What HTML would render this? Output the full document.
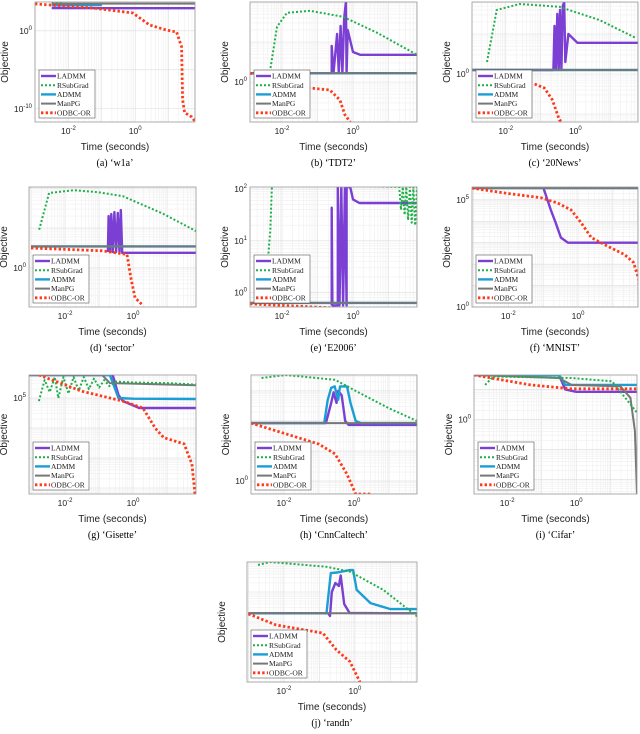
<!DOCTYPE html>
<html><head><meta charset="utf-8"><style>
html,body{margin:0;padding:0;background:#fff}
svg{display:block}
text{font-family:"Liberation Sans",sans-serif}
.cap{font-family:"Liberation Serif",serif;font-size:10px}
.leg{font-family:"Liberation Serif",serif;font-size:7.5px}
</style></head><body>
<svg id="fig" width="640" height="734" viewBox="0 0 640 734" xmlns="http://www.w3.org/2000/svg"></svg>
<script>
// data in log10 units: [log10(time), log10(objective)]
const a_ladmm=[[-2.5,2.93],[-1,2.9],[1.8,2.9]];
const a_rsub=[[-2.5,3.7],[-2.2,3.7]];
const a_admm=[[-2.5,3.3],[-1,3.3]];
const a_manpg=[[-2.5,3.5],[1.8,3.5]];
const a_odbc=[[-3,3.45],[-1.27,2.93],[-0.07,2.29],[0.43,0.75],[0.94,0.1],[1.24,-0.15],[1.39,-2.07],[1.42,-8.86],[1.48,-10.5],[1.69,-11.05],[1.78,-11.56]];
const b_ladmm=[[-2.9,0.22],[-0.6,0.22],[-0.6,0.9],[-0.55,0.22],[-0.45,1.2],[-0.4,0.22],[-0.35,1.4],[-0.3,0.22],[-0.25,1.6],[-0.2,2.0],[-0.18,0.22],[-0.15,1.3],[0,0.75],[0.2,0.68],[1.8,0.68]];
const b_rsub=[[-2.34,0.25],[-2.14,1.38],[-1.86,1.73],[-1.21,1.78],[-0.28,1.63],[0.68,1.23],[1.8,0.68]];
const b_admm=[[-3,0.22],[1.8,0.22]];
const b_manpg=[[-3,0.22],[1.8,0.22]];
const b_odbc=[[-2.9,0.22],[-1.21,-0.15],[-0.65,-0.2],[-0.37,-0.45],[-0.23,-0.82],[-0.08,-1]];
const c_ladmm=[[-3,0.1],[-0.63,0.1],[-0.6,1.2],[-0.56,0.1],[-0.52,1.5],[-0.48,0.1],[-0.44,1.6],[-0.4,0.1],[-0.36,1.7],[-0.32,1.8],[-0.29,0.3],[-0.2,1.0],[0.06,0.78],[1.8,0.78]];
const c_rsub=[[-2.54,0.3],[-2.26,1.6],[-1.6,1.75],[-0.46,1.68],[0.69,1.35],[1.74,0.9]];
const c_admm=[[-3,0.1],[1.8,0.1]];
const c_manpg=[[-3,0.1],[1.8,0.1]];
const c_odbc=[[-1.17,-0.25],[-0.89,-0.35],[-0.66,-0.65],[-0.46,-1.15],[-0.37,-1.2]];
const d_ladmm=[[-0.74,0.4],[-0.72,1.3],[-0.68,0.4],[-0.64,1.35],[-0.6,0.4],[-0.55,1.4],[-0.5,0.4],[-0.45,1.38],[-0.4,0.4],[-0.36,1.45],[-0.32,0.38],[1.9,0.38]];
const d_rsub=[[-2.76,0.96],[-2.47,1.88],[-1.74,1.95],[-1.03,1.9],[-0.3,1.8],[0.88,1.36],[1.9,0.9]];
const d_admm=[[-3,0.54],[1.9,0.54]];
const d_manpg=[[-3,0.54],[1.9,0.54]];
const d_odbc=[[-3,0.5],[-0.91,0.43],[-0.18,0.34],[-0.06,-0.27],[0.06,-0.75],[0.3,-0.95]];
const e_ladmm=[[-0.6,-0.25],[-0.6,1.64],[-0.58,-0.25],[-0.43,-0.25],[-0.43,2.04],[-0.38,-0.25],[-0.33,2.04],[-0.28,-0.25],[-0.23,2.04],[-0.18,-0.25],[-0.18,2.04],[-0.08,2.04],[0,1.8],[0.18,1.73],[1.8,1.73]];
const e_rsub=[[-2.4,0.6],[-2.33,1.2],[-2.28,2.1],[1.3,2.04],[1.35,1.6],[1.4,2.04],[1.45,1.5],[1.5,2.04],[1.55,1.4],[1.6,2.04],[1.65,1.35],[1.7,2.04],[1.75,1.3],[1.8,2.04]];
const e_admm=[[-3,-0.2],[1.8,-0.2]];
const e_manpg=[[-3,-0.2],[1.8,-0.2]];
const e_odbc=[[-2.9,-0.22],[-0.5,-0.3]];
const f_ladmm=[[-0.99,5.55],[-0.78,4.53],[-0.64,3.93],[-0.49,3.24],[-0.29,3.0],[-0.1,3.0],[1.8,3.0]];
const f_rsub=[];
const f_admm=[[-3,5.55],[1.8,5.55]];
const f_manpg=[[-3,5.55],[1.8,5.55]];
const f_odbc=[[-3.04,5.55],[-2.03,5.3],[-1.07,5.1],[-0.58,4.85],[-0.2,4.53],[0.09,3.93],[0.38,3.24],[0.87,2.82],[1.33,2.45],[1.59,2.08],[1.74,1.3],[1.77,0.05]];
const g_ladmm=[[-3.06,5.77],[-0.6,5.77],[-0.43,5.1],[-0.3,4.9],[0.18,4.67],[1.85,4.67]];
const g_rsub=[[-2.77,4.9],[-2.6,5.6],[-2.45,5.2],[-2.3,5.7],[-2.2,5.0],[-2.05,5.7],[-1.9,5.15],[-1.75,5.7],[-1.6,5.25],[-1.45,5.7],[-1.3,5.3],[-1.15,5.65],[-1.0,5.35],[-0.85,5.6],[-0.7,5.4],[-0.5,5.55],[0,5.52],[1,5.5],[1.85,5.45]];
const g_admm=[[-3.06,5.77],[-0.68,5.77],[-0.43,5.0],[0,4.98],[1.85,4.97]];
const g_manpg=[[-3.06,5.77],[-0.91,5.77],[-0.68,5.5],[1.85,5.43]];
const g_odbc=[[-2.77,5.77],[-1.51,5.23],[-0.3,4.9],[0.29,4.67],[0.65,4.0],[0.9,3.68],[1.5,3.47],[1.73,2.8],[1.82,1.8]];
const h_ladmm=[[-3,1.93],[-0.8,1.93],[-0.65,2.6],[-0.58,2.95],[-0.5,2.6],[-0.45,3.0],[-0.35,2.85],[-0.25,2.0],[-0.15,1.87],[1.8,1.87]];
const h_rsub=[[-2.64,3.43],[-1.94,3.53],[-0.54,3.37],[0.05,3.0],[0.99,2.43],[1.8,2.0]];
const h_admm=[[-3,1.93],[-0.85,1.93],[-0.75,2.7],[-0.65,3.1],[-0.55,3.15],[-0.45,2.7],[-0.4,3.15],[-0.2,3.15],[-0.1,2.6],[0.05,2.0],[0.2,1.93],[1.8,1.93]];
const h_manpg=[[-3,1.93],[1.8,1.93]];
const h_odbc=[[-2.94,1.93],[-1.94,1.57],[-1.0,1.23],[-0.54,0.9],[-0.2,0.23],[0.05,-0.43],[0.5,-0.43]];
const i_ladmm=[[-3,1.48],[-0.5,1.48],[-0.32,1.0],[0,0.92],[1.8,0.92]];
const i_rsub=[[-2.64,1.15],[-2.4,1.43],[-0.14,1.38],[1.04,1.27],[1.8,0.17]];
const i_admm=[[-3,1.48],[-0.5,1.48],[-0.32,1.15],[1.8,1.15]];
const i_manpg=[[-2.96,1.48],[-0.5,1.38],[-0.14,1.15],[1.28,1.1],[1.57,0.72],[1.7,-0.38],[1.76,-2.48]];
const i_odbc=[[-2.96,1.48],[-1.33,1.15],[-0.14,1.02],[1.8,1.02]];
const j_ladmm=[[-3,2.29],[-0.75,2.29],[-0.7,2.2],[-0.65,3.0],[-0.55,3.3],[-0.45,3.2],[-0.4,3.55],[-0.3,2.6],[-0.15,2.3],[1.76,2.29]];
const j_rsub=[[-2.73,3.9],[-2.39,4.0],[-0.8,3.84],[-0.14,3.68],[0.8,3.07],[1.76,2.18]];
const j_admm=[[-3,2.29],[-0.8,2.29],[-0.68,3.63],[-0.5,3.65],[-0.14,3.73],[-0.05,3.73],[0.05,3.07],[0.44,2.63],[1.0,2.43],[1.76,2.43]];
const j_manpg=[[-3,2.29],[1.8,2.29]];
const j_odbc=[[-3,2.27],[-2.22,1.9],[-0.9,1.63],[-0.52,1.07],[-0.14,0.68],[0.14,0]];
const xTickExps=[-2,0];
const legendLabels=["LADMM","RSubGrad","ADMM","ManPG","ODBC-OR"];
const captions=["(a) ‘w1a’","(b) ‘TDT2’","(c) ‘20News’","(d) ‘sector’","(e) ‘E2006’","(f) ‘MNIST’","(g) ‘Gisette’","(h) ‘CnnCaltech’","(i) ‘Cifar’","(j) ‘randn’"];
const yTickExps=[[0,-10],[0],[0],[0],[2,1,0],[5,0],[5],[0],[0],[]];
const yDomains=[[-11.7,3.7],[-1,2],[-1.2,1.8],[-0.98,2.03],[-0.28,2.04],[0,5.6],[1.8,5.77],[-0.43,3.53],[-2.48,1.48],[0,4]];
const xDomains=[[-3,1.79],[-2.9,1.8],[-2.97,1.8],[-3.06,1.85],[-2.9,1.8],[-3.04,1.72],[-3.06,1.85],[-2.94,1.8],[-2.96,1.76],[-3.04,1.75]];
const seriesData=[
 [a_ladmm,a_rsub,a_admm,a_manpg,a_odbc],[b_ladmm,b_rsub,b_admm,b_manpg,b_odbc],[c_ladmm,c_rsub,c_admm,c_manpg,c_odbc],
 [d_ladmm,d_rsub,d_admm,d_manpg,d_odbc],[e_ladmm,e_rsub,e_admm,e_manpg,e_odbc],[f_ladmm,f_rsub,f_admm,f_manpg,f_odbc],
 [g_ladmm,g_rsub,g_admm,g_manpg,g_odbc],[h_ladmm,h_rsub,h_admm,h_manpg,h_odbc],[i_ladmm,i_rsub,i_admm,i_manpg,i_odbc],
 [j_ladmm,j_rsub,j_admm,j_manpg,j_odbc]];

// layout (not data)
const boxes=[[35,2,195,122],[250,2,417,122],[472,2,638,122],[29,187,196,307],[250,187,417,307],[472,187,638,307],[29,375,196,494],[251,375,417,494],[474,375,637,494],[247,562,417,682]];
const styles=[
 {c:"#7b3fd4",w:2.4,d:null},{c:"#1fae4a",w:2,d:"2,2"},{c:"#1b9ed6",w:2.4,d:null},{c:"#777777",w:2,d:null},{c:"#ff3a1a",w:2.8,d:"2.4,2.2"}];
const drawOrder=[0,2,3,1,4];
const NS="http://www.w3.org/2000/svg";
const svg=document.getElementById('fig');
function mk(tag,attrs,parent){const e=document.createElementNS(NS,tag);for(const k in attrs)e.setAttribute(k,attrs[k]);(parent||svg).appendChild(e);return e;}
const names="abcdefghij";
boxes.forEach((b,p)=>{
 const [x0,y0,x1,y1]=b,[xa,xb]=xDomains[p],[ya,yb]=yDomains[p];
 const sx=v=>x0+(v-xa)/(xb-xa)*(x1-x0);
 const sy=v=>y1-(v-ya)/(yb-ya)*(y1-y0);
 const g=mk('g',{});
 
 
 const cid='clip'+p;
 const cp=mk('clipPath',{id:cid},g);mk('rect',{x:x0,y:y0,width:x1-x0,height:y1-y0},cp);
 const grid=mk('g',{},g);
 
 
 for(let d=Math.floor(xa);d<=Math.ceil(xb);d++)for(let k=1;k<10;k++){const v=d+Math.log10(k);if(v<xa||v>xb)continue;const X=sx(v);mk('line',{x1:X,y1:y0,x2:X,y2:y1,stroke:k==1?"#dcdcdc":"#efefef","stroke-width":0.6},grid);}
 const ystep=(yb-ya)>8?5:1;
 for(let d=Math.floor(ya);d<=Math.ceil(yb);d++){
  if(ystep==1){for(let k=1;k<10;k++){const v=d+Math.log10(k);if(v<ya||v>yb)continue;const Y=sy(v);mk('line',{x1:x0,y1:Y,x2:x1,y2:Y,stroke:k==1?"#dcdcdc":"#efefef","stroke-width":0.6},grid);}}
  else if(d%ystep==0&&d>=ya&&d<=yb){const Y=sy(d);mk('line',{x1:x0,y1:Y,x2:x1,y2:Y,stroke:"#dcdcdc","stroke-width":0.6},grid);}
 }
 const sg=mk('g',{'clip-path':'url(#'+cid+')'},g);
 drawOrder.forEach(si=>{
  const pts=seriesData[p][si];if(!pts.length)return;
  const st=styles[si];
  const pl=mk('polyline',{points:pts.map(q=>sx(q[0]).toFixed(1)+","+sy(q[1]).toFixed(1)).join(" "),fill:"none",stroke:st.c,"stroke-width":st.w,"stroke-linejoin":"round"},sg);
  if(st.d)pl.setAttribute('stroke-dasharray',st.d);
  
  
 });
 const frame=mk('rect',{x:x0,y:y0,width:x1-x0,height:y1-y0,fill:"none",stroke:"#999","stroke-width":0.8},g);
 
 
 xTickExps.forEach(e=>{
  const X=sx(e);
  const t=mk('text',{x:X,y:y1+12,"font-size":"8.5","text-anchor":"middle",fill:"#222"},g);
  
  
  t.textContent="10";
  const s=mk('tspan',{dy:"-4","font-size":"6"},t);s.textContent=String(e);
 });
 yTickExps[p].forEach(e=>{
  const Y=sy(e);
  const t=mk('text',{x:x0-3,y:Y+3,"font-size":"8.5","text-anchor":"end",fill:"#222"},g);
  
  
  const s0=mk('tspan',{},t);s0.textContent="10";
  const s=mk('tspan',{dy:"-4","font-size":"6"},t);s.textContent=String(e);
 });
 const xl=mk('text',{x:(x0+x1)/2,y:y1+28,"font-size":"10","text-anchor":"middle",fill:"#222"},g);
 
 
 xl.textContent="Time (seconds)";
 const yx=x0-(yTickExps[p].some(v=>v<0)?27:22);
 const yl=mk('text',{x:yx,y:(y0+y1)/2,"font-size":"10","text-anchor":"middle",fill:"#222",transform:`rotate(-90 ${yx} ${(y0+y1)/2})`},g);
 
 
 yl.textContent="Objective";
 const cap=mk('text',{x:(x0+x1)/2,y:y1+44,"text-anchor":"middle",class:"cap",fill:"#000"},g);
 
 
 cap.textContent=captions[p];
 // legend
 const lx=x0+4,lw=56,lh=48,ly=y1-lh-4;
 const lg=mk('g',{},g);
 
 
 mk('rect',{x:lx,y:ly,width:lw,height:lh,fill:"#fff",stroke:"#555","stroke-width":0.6},lg);
 legendLabels.forEach((lab,i)=>{
  const yy=ly+6+i*9.2,st=styles[i];
  const e=mk('g',{},lg);
  
  
  const ln=mk('line',{x1:lx+2,y1:yy,x2:lx+17,y2:yy,stroke:st.c,"stroke-width":st.w},e);
  if(st.d)ln.setAttribute('stroke-dasharray',st.d);
  const t=mk('text',{x:lx+18,y:yy+2.6,class:"leg",fill:"#222"},e);t.textContent=lab;
 });
});
</script>
</body></html>
